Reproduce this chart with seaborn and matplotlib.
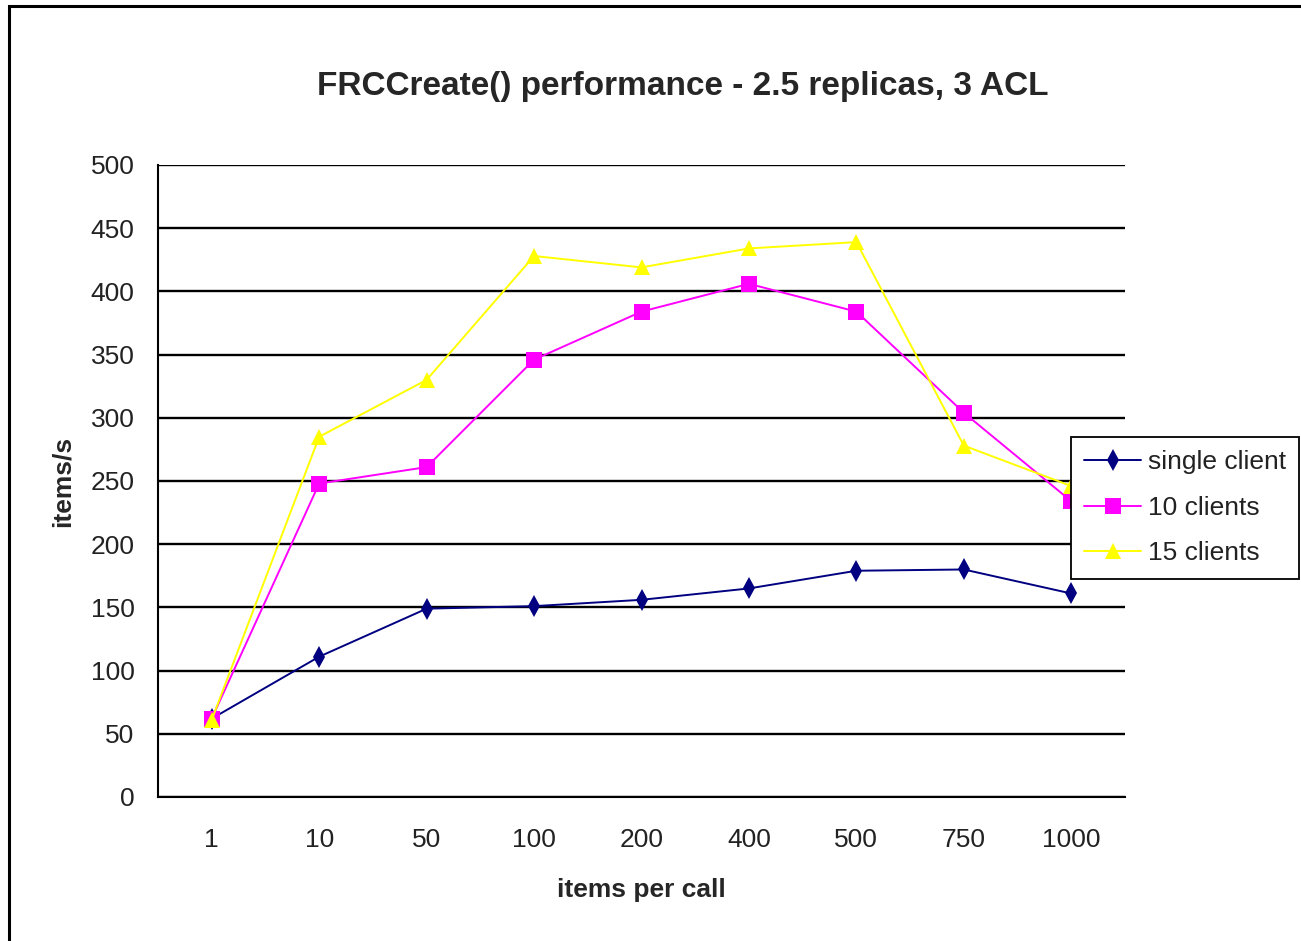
import matplotlib
matplotlib.use("Agg")
import matplotlib.pyplot as plt
import seaborn as sns
import pandas as pd
from matplotlib.patches import Rectangle

categories = ["1", "10", "50", "100", "200", "400", "500", "750", "1000"]
single_client = [62, 111, 149, 151, 156, 165, 179, 180, 161]
ten_clients = [62, 248, 261, 346, 384, 406, 384, 304, 234]
fifteen_clients = [61, 285, 330, 428, 419, 434, 439, 278, 246]
series_names = ["single client", "10 clients", "15 clients"]
y_ticks = [0, 50, 100, 150, 200, 250, 300, 350, 400, 450, 500]

rows = []
for name, vals in zip(series_names, [single_client, ten_clients, fifteen_clients]):
    for c, v in zip(categories, vals):
        rows.append({"items per call": c, "items/s": v, "series": name})
df = pd.DataFrame(rows)

sns.set_theme(style="white")
plt.rcParams["font.family"] = ["Liberation Sans", "DejaVu Sans"]

W, H = 1301, 941
fig = plt.figure(figsize=(W / 100, H / 100), dpi=100)
ax = fig.add_axes([158 / W, 1 - 797 / H, (1125 - 158) / W, (797 - 165) / H])

palette = {"single client": "#000080", "10 clients": "#FF00FF", "15 clients": "#FFFF00"}
markers = {"single client": "d", "10 clients": "s", "15 clients": "^"}
sns.lineplot(data=df, x="items per call", y="items/s", hue="series", style="series",
             palette=palette, markers=markers, dashes=False, sort=False,
             markersize=11, markeredgewidth=0, linewidth=1.4, ax=ax)

ax.set_xlim(-0.5, len(categories) - 0.5)
ax.set_ylim(0, 500)
ax.set_yticks(y_ticks)
ax.set_yticklabels([str(t) for t in y_ticks], fontsize=19, color="#222222")
ax.set_xticks(range(len(categories)))
ax.set_xticklabels(categories, fontsize=19, color="#222222")
ax.tick_params(axis="x", which="major", length=0, pad=22)
ax.set_xticks([i - 0.5 for i in range(len(categories) + 1)], minor=True)
ax.tick_params(axis="x", which="minor", direction="out", length=7, width=1.3, color="black")
ax.tick_params(axis="y", direction="inout", length=10, width=1.3, color="black", pad=12)

ax.yaxis.grid(True, color="black", linewidth=1.7)
ax.xaxis.grid(False)
ax.set_axisbelow(True)
for s in ["top", "right"]:
    ax.spines[s].set_visible(False)
for s in ["left", "bottom"]:
    ax.spines[s].set_color("black")
    ax.spines[s].set_linewidth(1.5)

ax.set_xlabel("items per call", fontsize=19, fontweight="bold", labelpad=19)
ax.set_ylabel("items/s", fontsize=19, fontweight="bold", labelpad=11)
fig.text(683 / W, 1 - 87 / H, "FRCCreate() performance - 2.5 replicas, 3 ACL",
         ha="center", va="center", fontsize=24, fontweight="bold")

sns.move_legend(ax, loc="upper left", bbox_to_anchor=(1071 / W, 1 - 437 / H),
                bbox_transform=fig.transFigure, title=None, frameon=True,
                fontsize=19, borderaxespad=0, handlelength=2.15,
                labelspacing=0.82, borderpad=0.5, handletextpad=0.25,
                framealpha=1)
leg = ax.get_legend()
leg.get_frame().set_edgecolor("black")
leg.get_frame().set_linewidth(1.3)
leg.get_frame().set_boxstyle("square", pad=0)
for t in leg.get_texts():
    t.set_color("#222222")

border = Rectangle((9 / W, -0.1), 1.2, 1.1 - 6 / H, transform=fig.transFigure,
                   fill=False, edgecolor="black", linewidth=2.2)
fig.patches.append(border)

fig.savefig("out.png", dpi=100)
